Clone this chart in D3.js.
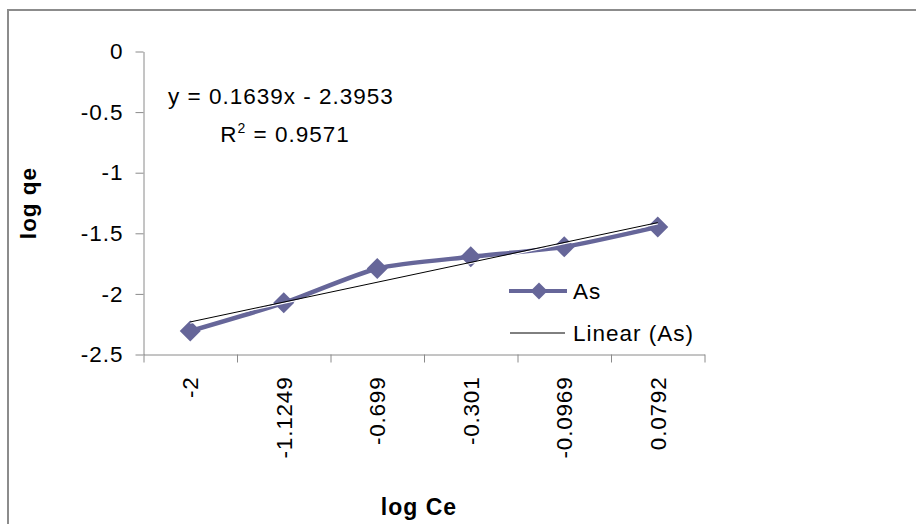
<!DOCTYPE html>
<html>
<head>
<meta charset="utf-8">
<script src="https://cdn.jsdelivr.net/npm/d3@7"></script>
<style>
  html, body { margin: 0; padding: 0; background: #fff; }
  svg { display: block; }
  text { font-family: "Liberation Sans", Arial, sans-serif; fill: #000; }
</style>
</head>
<body>
<svg id="chart" width="916" height="524"></svg>
<script>
// Freundlich isotherm: log qe against log Ce
const categories = ["-2", "-1.1249", "-0.699", "-0.301", "-0.0969", "0.0792"];
const asValues = [-2.306, -2.074, -1.790, -1.694, -1.612, -1.447];
const yTicks = [0, -0.5, -1, -1.5, -2, -2.5];
const trendSlope = 0.1639;
const trendIntercept = -2.3953;
const rSquared = 0.9571;
const seriesName = "As";

const svg = d3.select("#chart");
const W = 916, H = 524;
const plot = { left: 143.5, right: 704.5, top: 51.5, bottom: 354.5 };
const lineColor = "#666699";
const axisColor = "#8a8a8a";

// chart frame (runs past the right and bottom edges)
svg.append("rect")
  .attr("x", 8).attr("y", 10)
  .attr("width", W + 40).attr("height", H + 40)
  .attr("fill", "none")
  .attr("stroke", "#8c8c8c")
  .attr("stroke-width", 2);

const x = d3.scaleBand().domain(categories).range([plot.left, plot.right]).padding(0);
const xEdge = d3.scaleLinear().domain([0, categories.length]).range([plot.left, plot.right]);
const y = d3.scaleLinear().domain([-2.5, 0]).range([plot.bottom, plot.top]);
const cx = c => x(c) + x.bandwidth() / 2;

// y axis
const yAxis = svg.append("g")
  .attr("transform", `translate(${plot.left},0)`)
  .call(d3.axisLeft(y).tickValues(yTicks).tickFormat(d => String(d))
    .tickSize(8).tickSizeOuter(0).tickPadding(12));
yAxis.select(".domain").attr("stroke", axisColor);
yAxis.selectAll(".tick line").attr("stroke", axisColor);
yAxis.selectAll(".tick text")
  .style("font-size", "22.5px").style("letter-spacing", "1px")
  .attr("fill", "#000");

// x axis: tick marks on category boundaries
const xAxis = svg.append("g")
  .attr("transform", `translate(0,${plot.bottom})`)
  .call(d3.axisBottom(xEdge).tickValues(d3.range(categories.length + 1))
    .tickFormat("").tickSize(8).tickSizeOuter(0));
xAxis.select(".domain").attr("stroke", axisColor);
xAxis.selectAll(".tick line").attr("stroke", axisColor);

// rotated category labels
svg.append("g").selectAll("text")
  .data(categories)
  .join("text")
  .attr("transform", d => `translate(${cx(d)},${plot.bottom + 22}) rotate(-90)`)
  .attr("text-anchor", "end")
  .attr("dy", "0.36em")
  .style("font-size", "22.5px")
  .style("letter-spacing", "0.8px")
  .text(d => d);

// axis titles
svg.append("text")
  .attr("transform", `translate(28,${203}) rotate(-90)`)
  .attr("text-anchor", "middle")
  .attr("dy", "0.36em")
  .style("font-size", "22.5px").style("font-weight", "bold").style("letter-spacing", "1px")
  .text("log qe");

svg.append("text")
  .attr("x", 419).attr("y", 515)
  .attr("text-anchor", "middle")
  .style("font-size", "23px").style("font-weight", "bold").style("letter-spacing", "1px")
  .text("log Ce");

// linear trendline over category index 1..n
const trendPts = categories.map((c, i) => [cx(c), y(trendSlope * (i + 1) + trendIntercept)]);
const first = trendPts[0], last = trendPts[trendPts.length - 1];

// smoothed series line
const seriesPts = categories.map((c, i) => [cx(c), y(asValues[i])]);
svg.append("path")
  .attr("d", d3.line().curve(d3.curveCardinal.tension(0.35))(seriesPts))
  .attr("fill", "none")
  .attr("stroke", lineColor)
  .attr("stroke-width", 4.5)
  .attr("stroke-linejoin", "round");

const diamond = r => `M0,${-r}L${r},0L0,${r}L${-r},0Z`;
svg.append("g").selectAll("path")
  .data(seriesPts)
  .join("path")
  .attr("transform", d => `translate(${d[0]},${d[1]})`)
  .attr("d", diamond(10.5))
  .attr("fill", lineColor);

svg.append("line")
  .attr("x1", first[0]).attr("y1", first[1] + 1.2)
  .attr("x2", last[0]).attr("y2", last[1] + 1.2)
  .attr("stroke", "#fff").attr("stroke-width", 1.2);
svg.append("line")
  .attr("x1", first[0]).attr("y1", first[1])
  .attr("x2", last[0]).attr("y2", last[1])
  .attr("stroke", "#000").attr("stroke-width", 1);

// trendline equation
const eq = svg.append("g").style("font-size", "22.5px").style("letter-spacing", "1px");
eq.append("text")
  .attr("x", 281).attr("y", 104)
  .attr("text-anchor", "middle")
  .text(`y = ${trendSlope}x - ${Math.abs(trendIntercept)}`);
const r2 = eq.append("text")
  .attr("x", 285).attr("y", 142)
  .attr("text-anchor", "middle");
r2.append("tspan").text("R");
r2.append("tspan").attr("dy", -9).style("font-size", "14px").text("2");
r2.append("tspan").attr("dy", 9).text(` = ${rSquared}`);

// legend
const lg = svg.append("g");
lg.append("line")
  .attr("x1", 509).attr("x2", 567).attr("y1", 291).attr("y2", 291)
  .attr("stroke", lineColor).attr("stroke-width", 4);
lg.append("path")
  .attr("transform", "translate(539,291)")
  .attr("d", diamond(8.5))
  .attr("fill", lineColor);
lg.append("text")
  .attr("x", 573).attr("y", 299)
  .style("font-size", "22.5px").style("letter-spacing", "1px")
  .text(seriesName);
lg.append("line")
  .attr("x1", 510).attr("x2", 565).attr("y1", 333).attr("y2", 333)
  .attr("stroke", "#000").attr("stroke-width", 1);
lg.append("text")
  .attr("x", 573).attr("y", 341)
  .style("font-size", "22.5px").style("letter-spacing", "1px")
  .text(`Linear (${seriesName})`);
</script>
</body>
</html>
